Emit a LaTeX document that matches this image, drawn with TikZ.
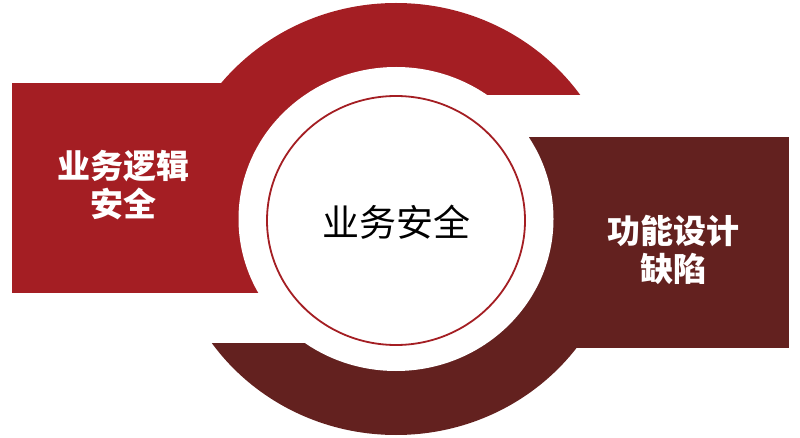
\documentclass[tikz,border=0pt]{standalone}
\usepackage{fontspec}
\newfontfamily\cjk{Noto Sans CJK SC}
\usepackage{xcolor}
\usetikzlibrary{positioning}
\definecolor{logicred}{RGB}{164,30,35}
\definecolor{flawred}{RGB}{99,33,31}

\begin{document}
\begin{tikzpicture}[x=1pt, y=-1pt,
    boxtext/.style={font=\cjk\bfseries\fontsize{33}{38}\selectfont, text=white, align=center},
    coretext/.style={font=\cjk\fontsize{37}{40}\selectfont, text=black}]
    \useasboundingbox (0,0) rectangle (800,438);

    % Upper ring and left block
    \begin{scope}
        \clip (0,0) rectangle (800,95);
        \fill [logicred] (396,219) ellipse [x radius=225, y radius=216];
    \end{scope}
    \fill [logicred] (12,83) rectangle (396,293);

    % Lower ring and right block
    \begin{scope}
        \clip (0,343) rectangle (800,438);
        \fill [flawred] (396,219) ellipse [x radius=225, y radius=216];
    \end{scope}
    \fill [flawred] (396,137) rectangle (789,348);

    % White gap
    \fill [white] (396,219) ellipse [x radius=157.5, y radius=152];

    % Centre disc
    \filldraw [fill=white, draw=logicred, line width=1.8pt] (396,220.5) ellipse [x radius=129, y radius=124.5];

    % Labels
    \node [coretext] (core) at (396,222) {业务安全};
    \node [boxtext] (logic) at (123,185) {业务逻辑\\安全};
    \node [boxtext] (flaw) at (673,250) {功能设计\\缺陷};
\end{tikzpicture}
\end{document}
